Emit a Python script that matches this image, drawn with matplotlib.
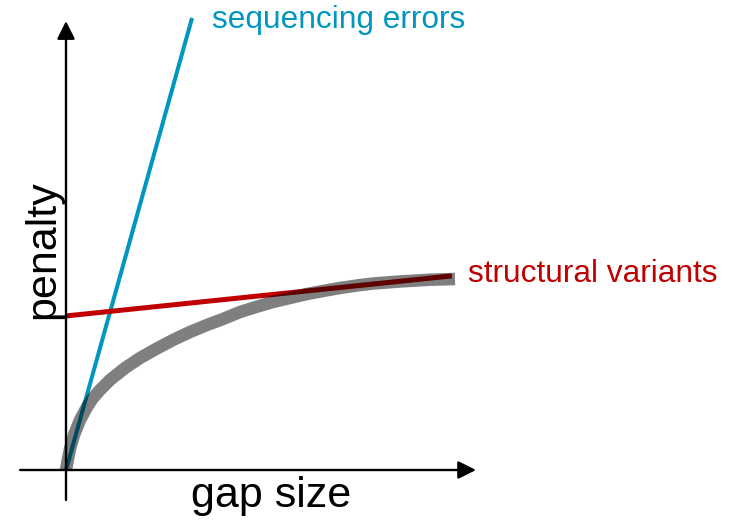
import numpy as np
import matplotlib.pyplot as plt

### data (axis units, origin = where the two arrows meet)
# gap penalty curve (concave, saturating)
gap_x = [0.0, 0.051, 0.103, 0.206, 0.360, 0.540, 0.694, 0.874, 1.131, 1.517,
         1.902, 2.314, 2.751, 3.188, 3.625, 4.036, 4.473, 4.884, 5.321, 5.758,
         6.195, 6.607, 7.044, 7.481, 7.892, 8.586, 9.357, 10.0]
gap_y = [0.0, 0.283, 0.540, 0.900, 1.285, 1.620, 1.851, 2.057, 2.314, 2.622,
         2.879, 3.111, 3.342, 3.548, 3.728, 3.882, 4.062, 4.190, 4.319, 4.422,
         4.524, 4.602, 4.679, 4.743, 4.794, 4.846, 4.892, 4.910]
# linear penalty for sequencing errors
seq_x = [0.0, 3.24]
seq_y = [0.0, 11.62]
# affine penalty for structural variants
sv_x = [0.0, 9.92]
sv_y = [3.96, 4.99]

x_axis = [-1.18, 10.54]
y_axis = [-0.77, 11.54]

blue = "#0096c0"
red = "#c00000"

plt.rcParams["font.family"] = ["Liberation Sans", "DejaVu Sans"]

fig = plt.figure(figsize=(7.33, 5.25), dpi=100)
ax = fig.add_axes([0, 0, 1, 1])
ax.set_xlim(-66 / 38.9, (733 - 66) / 38.9)
ax.set_ylim((470 - 525) / 38.9, 470 / 38.9)
ax.axis("off")

# coloured lines first, grey curve on top as translucent black (looks like multiply)
ax.plot(seq_x, seq_y, color=blue, lw=2.9, solid_capstyle="butt")
ax.plot(sv_x, sv_y, color=red, lw=3.6, solid_capstyle="butt")
ax.plot(gap_x, gap_y, color="black", alpha=0.5, lw=9,
        solid_capstyle="butt", solid_joinstyle="round")

# axes with arrow heads
arrow = dict(arrowstyle="-|>", lw=1.7, color="black", mutation_scale=27,
             shrinkA=0, shrinkB=0)
ax.annotate("", xy=(x_axis[1], 0), xytext=(x_axis[0], 0), arrowprops=arrow)
ax.annotate("", xy=(0, y_axis[1]), xytext=(0, y_axis[0]), arrowprops=arrow)

# labels
ax.text(5.28, -0.95, "gap size", fontsize=31, ha="center", va="baseline")
ax.text(-0.59, 5.66, "penalty", fontsize=31, rotation=90, ha="center", va="center")
ax.text(10.33, 4.83, "structural variants", fontsize=22.8, color=red,
        ha="left", va="baseline")
ax.text(3.75, 11.36, "sequencing errors", fontsize=22.8, color=blue,
        ha="left", va="baseline")

fig.savefig("out.png", dpi=100)
